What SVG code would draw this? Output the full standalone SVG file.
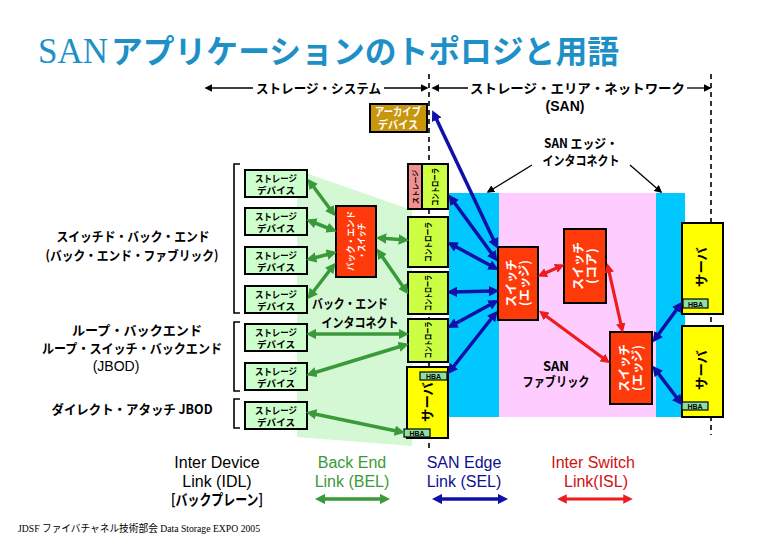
<svg xmlns="http://www.w3.org/2000/svg" width="780" height="540" viewBox="0 0 780 540">
<style>
.jp{font-family:"Noto Sans CJK JP","Noto Sans",sans-serif;font-weight:700}
.la{font-family:"Liberation Sans",Arial,sans-serif}
.st{fill:#ccffcc;stroke:#000;stroke-width:2}
.ctl{fill:#ccff44;stroke:#000;stroke-width:2}
.pk{fill:#f09090;stroke:#000;stroke-width:2}
.sw{fill:#ff3a0a;stroke:#000;stroke-width:2}
.srv{fill:#ffff00;stroke:#000;stroke-width:2}
.hba{fill:#8fe0a0;stroke:#000;stroke-width:1.2}
.ht{font-family:"Liberation Sans",Arial,sans-serif;font-weight:700;font-size:7px;fill:#000;text-anchor:middle}
.c{text-anchor:middle}
.w{fill:#fff}
.sd{font-size:9.5px}
.dash{stroke:#000;stroke-width:1.6;stroke-dasharray:5 4;fill:none}
.g{stroke:#3a9a3a;stroke-width:3.5;marker-start:url(#mg);marker-end:url(#mg)}
.b{stroke:#1010a8;stroke-width:3.5;marker-start:url(#mb);marker-end:url(#mb)}
.r{stroke:#ee1c1c;stroke-width:3.2;marker-start:url(#mr);marker-end:url(#mr)}
.k{stroke:#000;stroke-width:1.3;marker-end:url(#mk)}
.br{fill:none;stroke:#000;stroke-width:1.6}
</style>
<defs>
<marker id="mg" viewBox="0 0 10 10" refX="6" refY="5" markerWidth="3" markerHeight="3" orient="auto-start-reverse"><path d="M0,0L10,5L0,10z" fill="#3a9a3a"/></marker>
<marker id="mb" viewBox="0 0 10 10" refX="6" refY="5" markerWidth="3" markerHeight="3" orient="auto-start-reverse"><path d="M0,0L10,5L0,10z" fill="#1010a8"/></marker>
<marker id="mr" viewBox="0 0 10 10" refX="6" refY="5" markerWidth="3" markerHeight="3" orient="auto-start-reverse"><path d="M0,0L10,5L0,10z" fill="#ee1c1c"/></marker>
<marker id="mk" viewBox="0 0 10 10" refX="8" refY="5" markerWidth="6" markerHeight="6" orient="auto-start-reverse"><path d="M0,0L10,5L0,10z" fill="#000"/></marker>
</defs>
<rect width="780" height="540" fill="#fff"/>

<text x="38" y="63" font-family="Liberation Serif,serif" font-size="35" fill="#1e90c8">SAN</text>
<text x="111" y="63" class="jp" font-size="32" font-weight="900" fill="#1e90c8" textLength="508" lengthAdjust="spacingAndGlyphs">アプリケーションのトポロジと用語</text>

<g id="regions">
<polygon points="297,170 412,210 412,446 297,437" fill="#d4f8d4"/>
<rect x="449" y="193" width="236" height="224" fill="#00c8ff"/>
<rect x="499" y="193" width="157" height="224" fill="#ffccff"/>
<path class="dash" d="M429,74V448M711,74V435"/>
</g>

<g id="scope">
<line class="k" x1="253" y1="88" x2="206" y2="88"/>
<line class="k" x1="384" y1="88" x2="427" y2="88"/>
<text x="318.5" y="93" class="jp c" font-size="13" textLength="125" lengthAdjust="spacingAndGlyphs">ストレージ・システム</text>
<line class="k" x1="468" y1="88" x2="433" y2="88"/>
<line class="k" x1="687" y1="88" x2="710" y2="88"/>
<text x="577.5" y="93" class="jp c" font-size="13" textLength="215" lengthAdjust="spacingAndGlyphs">ストレージ・エリア・ネットワーク</text>
<text x="565" y="111" class="la c" font-size="14" font-weight="700">(SAN)</text>
</g>

<g id="labels">
<text class="jp c" font-size="13"><tspan x="133" y="241" textLength="153" lengthAdjust="spacingAndGlyphs">スイッチド・バック・エンド</tspan><tspan x="132" y="260" textLength="173" lengthAdjust="spacingAndGlyphs">(バック・エンド・ファブリック)</tspan></text>
<text class="jp c" font-size="13"><tspan x="137" y="335" textLength="130" lengthAdjust="spacingAndGlyphs">ループ・バックエンド</tspan><tspan x="132" y="353" textLength="180" lengthAdjust="spacingAndGlyphs">ループ・スイッチ・バックエンド</tspan></text>
<text x="116" y="371" class="la c" font-size="14">(JBOD)</text>
<text x="132" y="414" class="jp c" font-size="13" textLength="161" lengthAdjust="spacingAndGlyphs">ダイレクト・アタッチ JBOD</text>
<path class="br" d="M240,164H234V313H240M240,322H234V391H240M240,399H234V428H240"/>
<text class="jp c" font-size="13"><tspan x="350" y="308" textLength="76" lengthAdjust="spacingAndGlyphs">バック・エンド</tspan><tspan x="360" y="327" textLength="77" lengthAdjust="spacingAndGlyphs">インタコネクト</tspan></text>
<text class="jp c" font-size="13"><tspan x="581" y="148" textLength="74" lengthAdjust="spacingAndGlyphs">SAN エッジ・</tspan><tspan x="581" y="165" textLength="77" lengthAdjust="spacingAndGlyphs">インタコネクト</tspan></text>
<text class="jp c" font-size="13"><tspan x="556" y="371">SAN</tspan><tspan x="556" y="386" textLength="67" lengthAdjust="spacingAndGlyphs">ファブリック</tspan></text>
</g>

<g id="storage1"><rect class="st" x="245" y="170" width="62" height="27"/><text class="jp c sd"><tspan x="276" y="182" textLength="42" lengthAdjust="spacingAndGlyphs">ストレージ</tspan><tspan x="276" y="194" textLength="38" lengthAdjust="spacingAndGlyphs">デバイス</tspan></text></g>
<g id="storage2"><rect class="st" x="245" y="208" width="62" height="27"/><text class="jp c sd"><tspan x="276" y="220" textLength="42" lengthAdjust="spacingAndGlyphs">ストレージ</tspan><tspan x="276" y="232" textLength="38" lengthAdjust="spacingAndGlyphs">デバイス</tspan></text></g>
<g id="storage3"><rect class="st" x="245" y="247" width="62" height="27"/><text class="jp c sd"><tspan x="276" y="259" textLength="42" lengthAdjust="spacingAndGlyphs">ストレージ</tspan><tspan x="276" y="271" textLength="38" lengthAdjust="spacingAndGlyphs">デバイス</tspan></text></g>
<g id="storage4"><rect class="st" x="245" y="286" width="62" height="27"/><text class="jp c sd"><tspan x="276" y="298" textLength="42" lengthAdjust="spacingAndGlyphs">ストレージ</tspan><tspan x="276" y="310" textLength="38" lengthAdjust="spacingAndGlyphs">デバイス</tspan></text></g>
<g id="storage5"><rect class="st" x="245" y="324" width="62" height="27"/><text class="jp c sd"><tspan x="276" y="336" textLength="42" lengthAdjust="spacingAndGlyphs">ストレージ</tspan><tspan x="276" y="348" textLength="38" lengthAdjust="spacingAndGlyphs">デバイス</tspan></text></g>
<g id="storage6"><rect class="st" x="245" y="363" width="62" height="27"/><text class="jp c sd"><tspan x="276" y="375" textLength="42" lengthAdjust="spacingAndGlyphs">ストレージ</tspan><tspan x="276" y="387" textLength="38" lengthAdjust="spacingAndGlyphs">デバイス</tspan></text></g>
<g id="storage7"><rect class="st" x="245" y="402" width="62" height="27"/><text class="jp c sd"><tspan x="276" y="414" textLength="42" lengthAdjust="spacingAndGlyphs">ストレージ</tspan><tspan x="276" y="426" textLength="38" lengthAdjust="spacingAndGlyphs">デバイス</tspan></text></g>

<g id="archive"><rect x="370" y="104" width="57" height="28" fill="#c8960c" stroke="#000" stroke-width="2"/><text class="jp c w" font-size="11"><tspan x="398" y="116" textLength="46" lengthAdjust="spacingAndGlyphs">アーカイブ</tspan><tspan x="398" y="129" textLength="40" lengthAdjust="spacingAndGlyphs">デバイス</tspan></text></g>

<g id="beswitch"><rect class="sw" x="336" y="206" width="40" height="71"/>
<text transform="translate(356,241) rotate(-90)" class="jp c w" font-size="9"><tspan x="0" y="-2" textLength="60" lengthAdjust="spacingAndGlyphs">バック・エンド</tspan><tspan x="0" y="9" textLength="36" lengthAdjust="spacingAndGlyphs">・スイッチ</tspan></text></g>

<g id="ctrl1"><rect class="pk" x="408" y="164" width="14" height="45"/><rect class="ctl" x="422" y="164" width="26" height="45"/>
<text transform="translate(415,187) rotate(-90)" y="2.5" class="jp c" font-size="7" textLength="34" lengthAdjust="spacingAndGlyphs">ストレージ</text>
<text transform="translate(435,187) rotate(-90)" y="3" class="jp c" font-size="8.5" textLength="38" lengthAdjust="spacingAndGlyphs">コントローラ</text></g>
<g id="ctrl2"><rect class="ctl" x="408" y="217" width="40" height="50"/><text transform="translate(428,242) rotate(-90)" y="3" class="jp c" font-size="8.5" textLength="40" lengthAdjust="spacingAndGlyphs">コントローラ</text></g>
<g id="ctrl3"><rect class="ctl" x="408" y="272" width="40" height="42"/><text transform="translate(428,293) rotate(-90)" y="3" class="jp c" font-size="8.5" textLength="36" lengthAdjust="spacingAndGlyphs">コントローラ</text></g>
<g id="ctrl4"><rect class="ctl" x="408" y="319" width="40" height="43"/><text transform="translate(428,340) rotate(-90)" y="3" class="jp c" font-size="8.5" textLength="37" lengthAdjust="spacingAndGlyphs">コントローラ</text></g>

<g id="server0"><rect class="srv" x="407" y="367" width="41" height="71"/>
<text transform="translate(427,402) rotate(-90)" y="4.5" class="jp c" font-size="13" textLength="40" lengthAdjust="spacingAndGlyphs">サーバ</text>
<rect class="hba" x="420" y="372" width="27" height="8"/><text x="433.5" y="379" class="ht">HBA</text>
<rect class="hba" x="404" y="429" width="26" height="8"/><text x="417" y="436" class="ht">HBA</text></g>

<g id="edge1"><rect class="sw" x="498" y="247" width="40" height="73"/><text transform="translate(518,283) rotate(-90)" class="jp c w" font-size="12.5"><tspan x="0" y="-2.5" textLength="48" lengthAdjust="spacingAndGlyphs">スイッチ</tspan><tspan x="0" y="10.5" textLength="46" lengthAdjust="spacingAndGlyphs">(エッジ)</tspan></text></g>
<g id="core"><rect class="sw" x="564" y="229" width="42" height="74"/><text transform="translate(585,266) rotate(-90)" class="jp c w" font-size="12.5"><tspan x="0" y="-2.5" textLength="48" lengthAdjust="spacingAndGlyphs">スイッチ</tspan><tspan x="0" y="10.5" textLength="36" lengthAdjust="spacingAndGlyphs">(コア)</tspan></text></g>
<g id="edge2"><rect class="sw" x="610" y="332" width="42" height="72"/><text transform="translate(631,368) rotate(-90)" class="jp c w" font-size="12.5"><tspan x="0" y="-2.5" textLength="48" lengthAdjust="spacingAndGlyphs">スイッチ</tspan><tspan x="0" y="10.5" textLength="46" lengthAdjust="spacingAndGlyphs">(エッジ)</tspan></text></g>

<g id="server1"><rect class="srv" x="682" y="223" width="41" height="91"/><text transform="translate(701,267) rotate(-90)" y="4.5" class="jp c" font-size="13" textLength="40" lengthAdjust="spacingAndGlyphs">サーバ</text><rect class="hba" x="683" y="299" width="25" height="9"/><text x="695.5" y="306.5" class="ht">HBA</text></g>
<g id="server2"><rect class="srv" x="682" y="326" width="41" height="91"/><text transform="translate(701,370) rotate(-90)" y="4.5" class="jp c" font-size="13" textLength="40" lengthAdjust="spacingAndGlyphs">サーバ</text><rect class="hba" x="682" y="402" width="26" height="8"/><text x="695" y="409" class="ht">HBA</text></g>

<g id="connectors">
<line class="g" x1="310" y1="182" x2="333" y2="213"/>
<line class="g" x1="310" y1="221" x2="333" y2="230"/>
<line class="g" x1="310" y1="259" x2="333" y2="253"/>
<line class="g" x1="310" y1="296" x2="333" y2="266"/>
<line class="g" x1="380" y1="238" x2="405" y2="240"/>
<line class="g" x1="379" y1="252" x2="406" y2="291"/>
<line class="g" x1="310" y1="334" x2="405" y2="334"/>
<line class="g" x1="405" y1="345" x2="310" y2="374"/>
<line class="g" x1="310" y1="413" x2="401" y2="432"/>
<line class="b" x1="434" y1="114" x2="496" y2="245"/>
<line class="b" x1="451" y1="198" x2="495" y2="258"/>
<line class="b" x1="451" y1="244" x2="495" y2="268"/>
<line class="b" x1="451" y1="292" x2="495" y2="291"/>
<line class="b" x1="451" y1="326" x2="495" y2="302"/>
<line class="b" x1="450" y1="371" x2="495" y2="314"/>
<line class="b" x1="655" y1="339" x2="680" y2="305"/>
<line class="b" x1="655" y1="369" x2="680" y2="402"/>
<line class="r" x1="541" y1="275" x2="561" y2="266"/>
<line class="r" x1="608" y1="267" x2="622" y2="329"/>
<line class="r" x1="542" y1="313" x2="607" y2="361"/>
<line class="k" x1="532" y1="165" x2="488" y2="192"/>
<line class="k" x1="630" y1="165" x2="661" y2="192"/>
</g>

<g id="legend">
<text class="la c" font-size="16"><tspan x="217" y="468">Inter Device</tspan><tspan x="217" y="487">Link (IDL)</tspan></text>
<text x="217" y="505" class="jp c" font-size="15" textLength="92" lengthAdjust="spacingAndGlyphs">[バックプレーン]</text>
<text class="la c" font-size="16" fill="#3a9a3a"><tspan x="352" y="468">Back End</tspan><tspan x="352" y="487">Link (BEL)</tspan></text>
<line class="g" x1="319" y1="499" x2="386" y2="499" stroke-width="4"/>
<text class="la c" font-size="16" fill="#101090"><tspan x="464" y="468">SAN Edge</tspan><tspan x="464" y="487">Link (SEL)</tspan></text>
<line class="b" x1="436" y1="499" x2="504" y2="499" stroke-width="4"/>
<text class="la c" font-size="16" fill="#d01010"><tspan x="593" y="468">Inter Switch</tspan><tspan x="596" y="487">Link(ISL)</tspan></text>
<line class="r" x1="561" y1="499" x2="629" y2="499" stroke-width="4"/>
</g>
<text x="18" y="532" font-family="Liberation Serif,'Noto Sans CJK JP',serif" font-size="10" textLength="242" lengthAdjust="spacingAndGlyphs">JDSF ファイバチャネル技術部会 Data Storage EXPO 2005</text>
</svg>
